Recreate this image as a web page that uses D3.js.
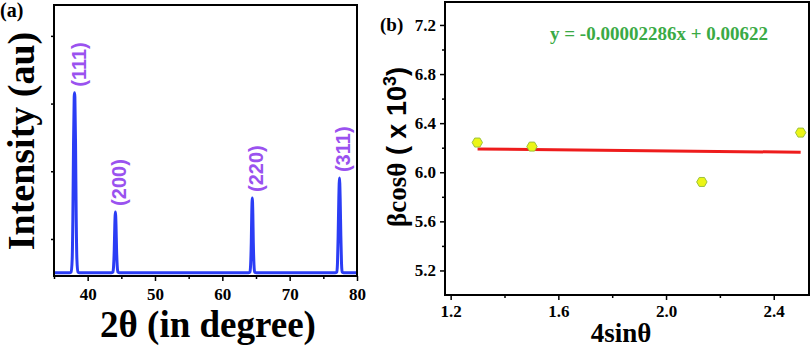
<!DOCTYPE html>
<html><head><meta charset="utf-8">
<script src="https://cdn.jsdelivr.net/npm/d3@7"></script>
<style>body{margin:0;background:#fff}svg{display:block}</style>
</head><body>
<script>
// ---- Panel (a) data: XRD pattern ----
const xrdProfile = [
  [35,500],[37.3,500],[37.55,510],[37.7,700],[37.8,1300],[37.9,2400],[38.0,3100],[38.05,3160],[38.1,3100],[38.2,2400],[38.3,1300],[38.4,700],[38.55,510],[38.8,500],
  [43.5,500],[43.75,510],[43.85,600],[43.95,850],[44.03,1200],[44.12,1400],[44.21,1200],[44.29,850],[44.39,600],[44.5,510],[44.75,500],
  [63.85,500],[64.1,510],[64.2,620],[64.3,950],[64.37,1380],[64.45,1606],[64.53,1380],[64.6,950],[64.7,620],[64.8,510],[65.05,500],
  [76.75,500],[77.0,510],[77.1,640],[77.2,1050],[77.3,1600],[77.4,1900],[77.5,1600],[77.6,1050],[77.7,640],[77.8,510],[78.05,500],[80,500]
];
const peakPos = [38.05, 44.12, 64.45, 77.4];
const peakHeight = [3160, 1400, 1606, 1900];
const peakLabels = ["(111)", "(200)", "(220)", "(311)"];
const xTicksA = [40, 50, 60, 70, 80];
const xMinorA = [35, 45, 55, 65, 75];
const yTicksA = [1000, 2000, 3000, 4000];

// ---- Panel (b) data: Williamson-Hall ----
const whX = [1.299, 1.502, 2.133, 2.50];
const whY = [6.242, 6.209, 5.921, 6.323];
const fitSlope = -0.02286;   // x 10^3
const fitIntercept = 6.22;   // x 10^3
const fitRange = [1.30, 2.50];
const xTicksB = [1.2, 1.6, 2.0, 2.4];
const xMinorB = [1.4, 1.8, 2.2];
const yTicksB = [5.2, 5.6, 6.0, 6.4, 6.8, 7.2];
const yMinorB = [5.4, 5.8, 6.2, 6.6, 7.0];
const equationText = "y = -0.00002286x + 0.00622";

const W = 812, H = 347;
const svg = d3.select("body").append("svg").attr("width", W).attr("height", H);
const serif = "'Liberation Serif','Times New Roman',serif";
const sans = "'Liberation Sans',Arial,sans-serif";

// ================= Panel (a) =================
const A = {l: 54, r: 357, t: 5, b: 276};
const xa = d3.scaleLinear().domain([35, 80]).range([A.l, A.r]);
const ya = d3.scaleLinear().domain([453, 4456]).range([A.b, A.t]);
const ga = svg.append("g");

ga.append("path").datum(xrdProfile)
  .attr("fill", "none").attr("stroke", "#2b3df5").attr("stroke-width", 3)
  .attr("stroke-linejoin", "round")
  .attr("d", d3.line().x(d => xa(d[0])).y(d => ya(d[1])).curve(d3.curveMonotoneX));

const axA = ga.append("g").attr("transform", `translate(0,${A.b})`)
  .call(d3.axisBottom(xa).tickValues(xTicksA).tickSize(5).tickSizeOuter(0).tickFormat(d3.format("d")));
ga.append("g").attr("transform", `translate(0,${A.b})`)
  .call(d3.axisBottom(xa).tickValues(xMinorA).tickSize(3).tickSizeOuter(0).tickFormat(""));
ga.append("g").attr("transform", `translate(${A.l},0)`)
  .call(d3.axisLeft(ya).tickValues(yTicksA).tickSize(3).tickSizeOuter(0).tickFormat(""));
ga.selectAll(".domain").remove();
ga.selectAll(".tick line").attr("stroke", "#000").attr("stroke-width", 1.5);
axA.selectAll(".tick text").style("font-family", serif).style("font-weight", "bold")
  .style("font-size", "17px").attr("fill", "#000").attr("y", 6).attr("dy", "1.05em");

ga.append("rect").attr("x", A.l).attr("y", A.t).attr("width", A.r - A.l).attr("height", A.b - A.t)
  .attr("fill", "none").attr("stroke", "#000").attr("stroke-width", 2);

ga.selectAll("text.peak").data(peakPos).enter().append("text")
  .attr("class", "peak")
  .attr("transform", (d, i) => `translate(${xa(d) + 11},${ya(peakHeight[i]) - 6}) rotate(-90)`)
  .style("font-family", sans).style("font-weight", "bold").style("font-size", "20px")
  .attr("fill", "#9a52ef")
  .text((d, i) => peakLabels[i]);

ga.append("text").attr("x", 208).attr("y", 337).attr("text-anchor", "middle")
  .style("font-family", serif).style("font-weight", "bold").style("font-size", "37px")
  .text("2θ (in degree)");
ga.append("text").attr("transform", `translate(34,141) rotate(-90)`).attr("text-anchor", "middle")
  .style("font-family", serif).style("font-weight", "bold").style("font-size", "38px")
  .text("Intensity (au)");
ga.append("text").attr("x", 0).attr("y", 17)
  .style("font-family", serif).style("font-weight", "bold").style("font-size", "20px").text("(a)");

// ================= Panel (b) =================
const B = {l: 445, r: 809, t: 2, b: 295};
const xb = d3.scaleLinear().domain([1.179, 2.531]).range([B.l, B.r]);
const yb = d3.scaleLinear().domain([5.0, 7.387]).range([B.b, B.t]);
const gb = svg.append("g");

const axBx = gb.append("g").attr("transform", `translate(0,${B.b})`)
  .call(d3.axisBottom(xb).tickValues(xTicksB).tickSize(5).tickSizeOuter(0).tickFormat(d3.format(".1f")));
gb.append("g").attr("transform", `translate(0,${B.b})`)
  .call(d3.axisBottom(xb).tickValues(xMinorB).tickSize(3).tickSizeOuter(0).tickFormat(""));
const axBy = gb.append("g").attr("transform", `translate(${B.l},0)`)
  .call(d3.axisLeft(yb).tickValues(yTicksB).tickSize(5).tickSizeOuter(0).tickFormat(d3.format(".1f")));
gb.append("g").attr("transform", `translate(${B.l},0)`)
  .call(d3.axisLeft(yb).tickValues(yMinorB).tickSize(3).tickSizeOuter(0).tickFormat(""));
gb.selectAll(".domain").remove();
gb.selectAll(".tick line").attr("stroke", "#000").attr("stroke-width", 1.5);
axBx.selectAll(".tick text").style("font-family", serif).style("font-weight", "bold")
  .style("font-size", "17px").attr("fill", "#000").attr("dy", "0.8em");
axBy.selectAll(".tick text").style("font-family", serif).style("font-weight", "bold")
  .style("font-size", "17px").attr("fill", "#000").attr("x", -9);

gb.append("rect").attr("x", B.l).attr("y", B.t).attr("width", B.r - B.l).attr("height", B.b - B.t)
  .attr("fill", "none").attr("stroke", "#000").attr("stroke-width", 2);

gb.append("line")
  .attr("x1", xb(fitRange[0])).attr("y1", yb(fitSlope * fitRange[0] + fitIntercept))
  .attr("x2", xb(fitRange[1])).attr("y2", yb(fitSlope * fitRange[1] + fitIntercept))
  .attr("stroke", "#ee1c1c").attr("stroke-width", 3);

const hex = d3.symbol().type({
  draw(ctx, size) {
    const r = Math.sqrt(size / (1.5 * Math.sqrt(3)));
    for (let k = 0; k < 6; k++) {
      const a = Math.PI / 3 * k;
      const px = r * Math.cos(a), py = r * Math.sin(a);
      k ? ctx.lineTo(px, py) : ctx.moveTo(px, py);
    }
    ctx.closePath();
  }
}).size(70);
gb.selectAll("path.pt").data(whX).enter().append("path")
  .attr("class", "pt")
  .attr("transform", (d, i) => `translate(${xb(d)},${yb(whY[i])})`)
  .attr("d", hex)
  .attr("fill", "#ecf516").attr("stroke", "#9cc23a").attr("stroke-width", 1);

gb.append("text").attr("x", 659).attr("y", 40).attr("text-anchor", "middle")
  .style("font-family", serif).style("font-weight", "bold").style("font-size", "19px")
  .attr("fill", "#3aaa45").text(equationText);

gb.append("text").attr("x", 621).attr("y", 342).attr("text-anchor", "middle")
  .style("font-family", serif).style("font-weight", "bold").style("font-size", "27px")
  .text("4sinθ");

const yl = gb.append("text").attr("transform", `translate(406,147) rotate(-90)`).attr("text-anchor", "middle")
  .style("font-weight", "bold").style("font-size", "27px");
yl.append("tspan").style("font-family", serif).text("βcosθ");
yl.append("tspan").style("font-family", sans).text(" ( x 10");
yl.append("tspan").style("font-family", sans).style("font-size", "18px").attr("dy", -10).text("3");
yl.append("tspan").style("font-family", sans).attr("dy", 10).text(")");

gb.append("text").attr("x", 380).attr("y", 31)
  .style("font-family", serif).style("font-weight", "bold").style("font-size", "19px").text("(b)");
</script>
</body></html>
